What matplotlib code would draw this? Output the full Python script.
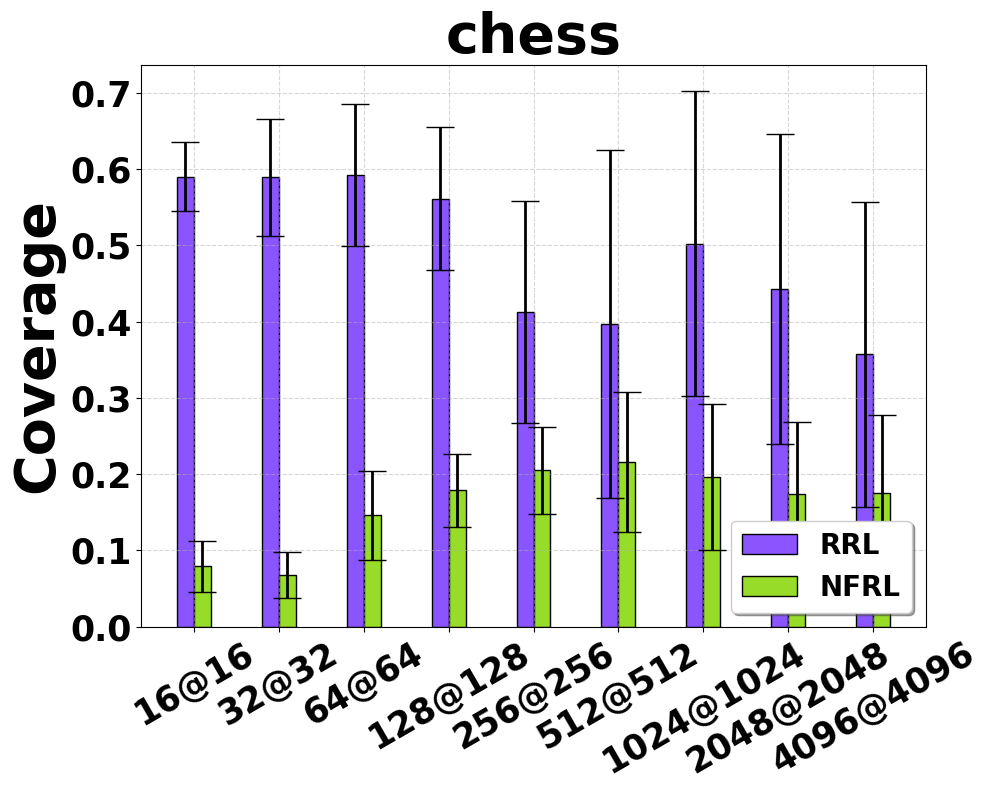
import matplotlib
matplotlib.use("Agg")
import matplotlib.pyplot as plt
import numpy as np

categories = ["16@16", "32@32", "64@64", "128@128", "256@256",
              "512@512", "1024@1024", "2048@2048", "4096@4096"]
rrl_mean = [0.590, 0.589, 0.592, 0.561, 0.4125, 0.3966, 0.502, 0.4427, 0.357]
rrl_std = [0.045, 0.077, 0.093, 0.094, 0.145, 0.228, 0.200, 0.2035, 0.200]
nfrl_mean = [0.079, 0.0675, 0.146, 0.179, 0.205, 0.216, 0.196, 0.174, 0.175]
nfrl_std = [0.033, 0.030, 0.058, 0.048, 0.057, 0.092, 0.096, 0.094, 0.102]

rrl_color = "#8A55FF"
nfrl_color = "#96DC28"

fig = plt.figure(figsize=(9.89, 7.9), dpi=100)
ax = fig.add_axes([141.3 / 989, 1 - 626.7 / 790, (925.7 - 141.3) / 989, (626.7 - 64.7) / 790])

x = np.arange(len(categories))
w = 0.2
err_kw = dict(elinewidth=2, capthick=1, ecolor="black")
ax.bar(x - w / 2, rrl_mean, w, yerr=rrl_std, capsize=10, color=rrl_color,
       edgecolor="black", linewidth=1, label="RRL", error_kw=err_kw)
ax.bar(x + w / 2, nfrl_mean, w, yerr=nfrl_std, capsize=10, color=nfrl_color,
       edgecolor="black", linewidth=1, label="NFRL", error_kw=err_kw)

ax.set_xticks(x)
ax.set_xticklabels(categories, rotation=30, fontsize=25, fontweight="bold")
ax.set_yticks(np.arange(0, 0.71, 0.1))
ax.set_yticklabels([f"{v:.1f}" for v in np.arange(0, 0.71, 0.1)], fontsize=25, fontweight="bold")
ax.set_ylim(0, 0.7367)
ax.set_ylabel("Coverage", fontsize=40, fontweight="bold")
ax.set_title("chess", fontsize=40, fontweight="bold")
ax.grid(True, linestyle="--", alpha=0.5)

ax.legend(loc="lower right", prop={"size": 20, "weight": "bold"}, shadow=True, fancybox=True)

fig.savefig("out.png", dpi=100)
